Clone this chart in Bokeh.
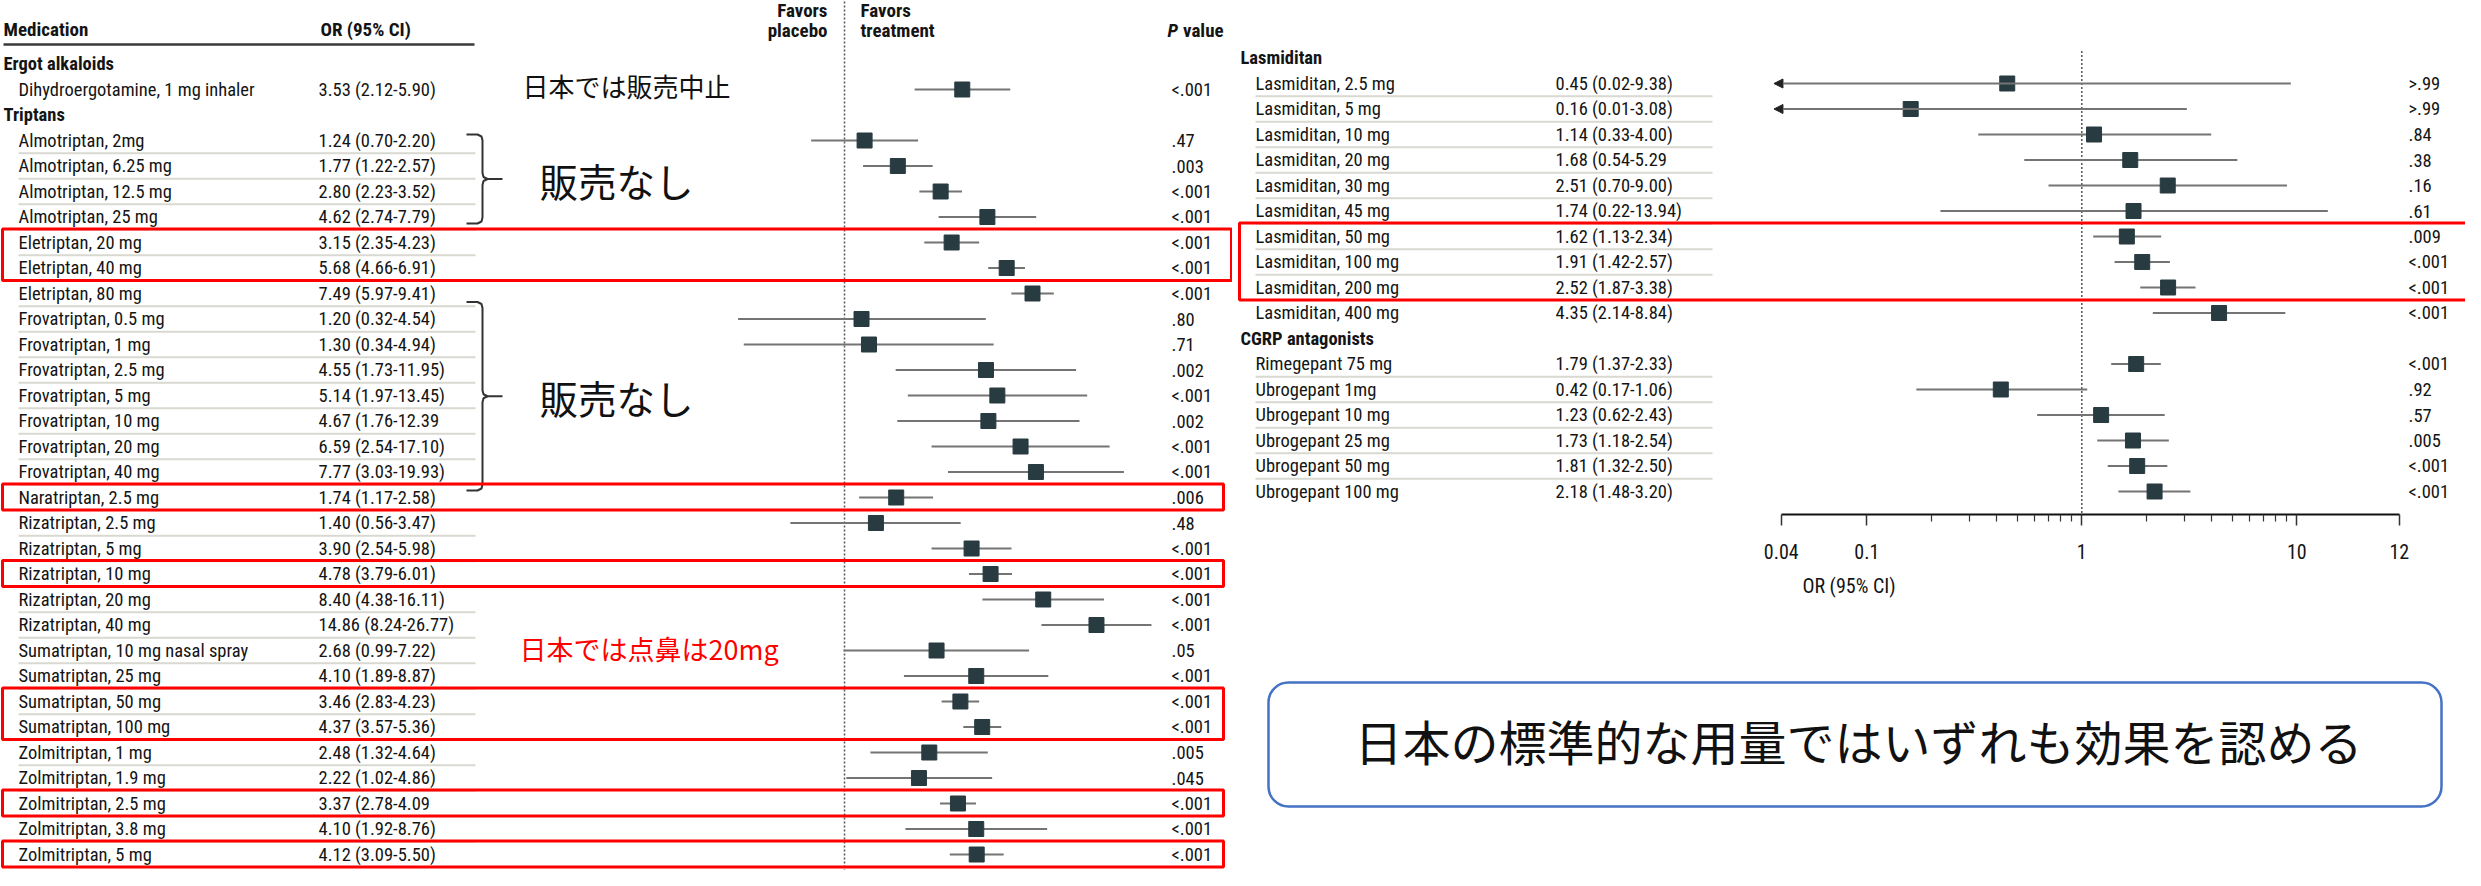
from bokeh.plotting import figure
from bokeh.models import (Range1d, LogScale, LogAxis, FixedTicker, CustomJSTickFormatter,
                          BoxAnnotation, Arrow, NormalHead, ColumnDataSource)
from bokeh.layouts import row, column
from bokeh.core.properties import value
from bokeh.embed import file_html
from bokeh.resources import INLINE

# ---------------------------------------------------------------- data
left_group_names = ["Ergot alkaloids", "Triptans"]
left_group_counts = [1, 29]
left_names = [
    "Dihydroergotamine, 1 mg inhaler",
    "Almotriptan, 2mg", "Almotriptan, 6.25 mg", "Almotriptan, 12.5 mg", "Almotriptan, 25 mg",
    "Eletriptan, 20 mg", "Eletriptan, 40 mg", "Eletriptan, 80 mg",
    "Frovatriptan, 0.5 mg", "Frovatriptan, 1 mg", "Frovatriptan, 2.5 mg", "Frovatriptan, 5 mg",
    "Frovatriptan, 10 mg", "Frovatriptan, 20 mg", "Frovatriptan, 40 mg",
    "Naratriptan, 2.5 mg",
    "Rizatriptan, 2.5 mg", "Rizatriptan, 5 mg", "Rizatriptan, 10 mg", "Rizatriptan, 20 mg",
    "Rizatriptan, 40 mg",
    "Sumatriptan, 10 mg nasal spray", "Sumatriptan, 25 mg", "Sumatriptan, 50 mg",
    "Sumatriptan, 100 mg",
    "Zolmitriptan, 1 mg", "Zolmitriptan, 1.9 mg", "Zolmitriptan, 2.5 mg", "Zolmitriptan, 3.8 mg",
    "Zolmitriptan, 5 mg"]
left_or = [3.53, 1.24, 1.77, 2.80, 4.62, 3.15, 5.68, 7.49, 1.20, 1.30, 4.55, 5.14, 4.67, 6.59,
           7.77, 1.74, 1.40, 3.90, 4.78, 8.40, 14.86, 2.68, 4.10, 3.46, 4.37, 2.48, 2.22, 3.37,
           4.10, 4.12]
left_lo = [2.12, 0.70, 1.22, 2.23, 2.74, 2.35, 4.66, 5.97, 0.32, 0.34, 1.73, 1.97, 1.76, 2.54,
           3.03, 1.17, 0.56, 2.54, 3.79, 4.38, 8.24, 0.99, 1.89, 2.83, 3.57, 1.32, 1.02, 2.78,
           1.92, 3.09]
left_hi = [5.90, 2.20, 2.57, 3.52, 7.79, 4.23, 6.91, 9.41, 4.54, 4.94, 11.95, 13.45, 12.39, 17.10,
           19.93, 2.58, 3.47, 5.98, 6.01, 16.11, 26.77, 7.22, 8.87, 4.23, 5.36, 4.64, 4.86, 4.09,
           8.76, 5.50]
left_or_text = [
    "3.53 (2.12-5.90)", "1.24 (0.70-2.20)", "1.77 (1.22-2.57)", "2.80 (2.23-3.52)",
    "4.62 (2.74-7.79)", "3.15 (2.35-4.23)", "5.68 (4.66-6.91)", "7.49 (5.97-9.41)",
    "1.20 (0.32-4.54)", "1.30 (0.34-4.94)", "4.55 (1.73-11.95)", "5.14 (1.97-13.45)",
    "4.67 (1.76-12.39", "6.59 (2.54-17.10)", "7.77 (3.03-19.93)", "1.74 (1.17-2.58)",
    "1.40 (0.56-3.47)", "3.90 (2.54-5.98)", "4.78 (3.79-6.01)", "8.40 (4.38-16.11)",
    "14.86 (8.24-26.77)", "2.68 (0.99-7.22)", "4.10 (1.89-8.87)", "3.46 (2.83-4.23)",
    "4.37 (3.57-5.36)", "2.48 (1.32-4.64)", "2.22 (1.02-4.86)", "3.37 (2.78-4.09",
    "4.10 (1.92-8.76)", "4.12 (3.09-5.50)"]
left_p = ["<.001", ".47", ".003", "<.001", "<.001", "<.001", "<.001", "<.001", ".80", ".71",
          ".002", "<.001", ".002", "<.001", "<.001", ".006", ".48", "<.001", "<.001", "<.001",
          "<.001", ".05", "<.001", "<.001", "<.001", ".005", ".045", "<.001", "<.001", "<.001"]

right_group_names = ["Lasmiditan", "CGRP antagonists"]
right_group_counts = [10, 6]
right_names = [
    "Lasmiditan, 2.5 mg", "Lasmiditan, 5 mg", "Lasmiditan, 10 mg", "Lasmiditan, 20 mg",
    "Lasmiditan, 30 mg", "Lasmiditan, 45 mg", "Lasmiditan, 50 mg", "Lasmiditan, 100 mg",
    "Lasmiditan, 200 mg", "Lasmiditan, 400 mg",
    "Rimegepant 75 mg", "Ubrogepant 1mg", "Ubrogepant 10 mg", "Ubrogepant 25 mg",
    "Ubrogepant 50 mg", "Ubrogepant 100 mg"]
right_or = [0.45, 0.16, 1.14, 1.68, 2.51, 1.74, 1.62, 1.91, 2.52, 4.35, 1.79, 0.42, 1.23, 1.73,
            1.81, 2.18]
right_lo = [0.02, 0.01, 0.33, 0.54, 0.70, 0.22, 1.13, 1.42, 1.87, 2.14, 1.37, 0.17, 0.62, 1.18,
            1.32, 1.48]
right_hi = [9.38, 3.08, 4.00, 5.29, 9.00, 13.94, 2.34, 2.57, 3.38, 8.84, 2.33, 1.06, 2.43, 2.54,
            2.50, 3.20]
right_or_text = [
    "0.45 (0.02-9.38)", "0.16 (0.01-3.08)", "1.14 (0.33-4.00)", "1.68 (0.54-5.29",
    "2.51 (0.70-9.00)", "1.74 (0.22-13.94)", "1.62 (1.13-2.34)", "1.91 (1.42-2.57)",
    "2.52 (1.87-3.38)", "4.35 (2.14-8.84)", "1.79 (1.37-2.33)", "0.42 (0.17-1.06)",
    "1.23 (0.62-2.43)", "1.73 (1.18-2.54)", "1.81 (1.32-2.50)", "2.18 (1.48-3.20)"]
right_p = [">.99", ">.99", ".84", ".38", ".16", ".61", ".009", "<.001", "<.001", "<.001",
           "<.001", ".92", ".57", ".005", "<.001", "<.001"]

axis_ticks = [0.04, 0.1, 1, 10, 30]
axis_tick_labels = ["0.04", "0.1", "1", "10", "12"]
axis_minor_ticks = [0.2, 0.3, 0.4, 0.5, 0.6, 0.7, 0.8, 0.9, 2, 3, 4, 5, 6, 7, 8, 9]

# annotations (Japanese notes) -----------------------------------------
note_top = "日本では販売中止"
note_none = "販売なし"
note_nasal = "日本では点鼻は20mg"
note_box = "日本の標準的な用量ではいずれも効果を認める"
left_brace_rows = [(3, 6), (10, 16)]          # rows grouped by a curly brace
left_red_rows = [(7, 8), (17, 17), (20, 20), (25, 26), (29, 29), (31, 31)]
right_red_rows = [(7, 9)]

# ---------------------------------------------------------------- style / layout
FONT = "'Roboto Condensed', 'Liberation Sans Narrow', 'DejaVu Sans Condensed', Lato, sans-serif"
CJK = "'Noto Sans CJK JP', sans-serif"
INK = "#141414"
SQ = "#283b41"
CI = "#747474"
SEP = "#d9d9d1"
RED = "#ff0000"
FS = 18.5

M = 8
W_LEFT, W_RIGHT, H = 1232, 1233, 870
X_SPLIT = M + W_LEFT
X_END = X_SPLIT + W_RIGHT
Y_END = M + H
PITCH = 25.5
L_ROW0, R_ROW0 = 71.5, 65.5
L_ONE_X, R_ONE_X, PX_DEC = 852.0, 2089.3, 215.0
ARROW_CLIP = 0.037
B_FRAME_BOTTOM = 522
B_BORDER = 100


def log_range(xl, xr, one_x):
    return Range1d(10 ** ((xl - one_x) / PX_DEC), 10 ** ((xr - one_x) / PX_DEC))


def make_fig(w, h, x0, x1, y_top, y_bottom):
    p = figure(width=w, height=h, x_range=Range1d(x0, x1), y_range=Range1d(y_bottom, y_top),
               x_axis_type=None, y_axis_type=None, toolbar_location=None,
               output_backend="svg", min_border=0, outline_line_color=None)
    p.background_fill_color = "white"
    p.border_fill_color = "white"
    return p


def layout_rows(counts, row0):
    hy, iy, ig = [], [], []
    i = 0
    for g, n in enumerate(counts):
        hy.append(row0 + PITCH * i)
        i += 1
        for _ in range(n):
            iy.append(row0 + PITCH * i)
            ig.append(g)
            i += 1
    return hy, iy, ig


def seps(iy, ig):
    return [(a + b) / 2 for a, b, ga, gb in zip(iy[:-1], iy[1:], ig[:-1], ig[1:]) if ga == gb]


def txt(p, xs, ys, texts, size, style="normal", color=INK, align="left", font=FONT):
    p.text(x=xs, y=ys, text=texts, text_font=value(font), text_font_size=f"{size}px",
           text_font_style=style, text_color=color, text_align=align,
           text_baseline="middle")


def table(p, hx, ix, orx, px, sep_x1, names, groups, or_text, pvals, hy, iy, ig):
    txt(p, [hx] * len(hy), hy, groups, FS, "bold")
    txt(p, [ix] * len(iy), iy, names, FS)
    txt(p, [orx] * len(iy), iy, or_text, FS)
    txt(p, [px] * len(iy), iy, pvals, FS)
    sy = seps(iy, ig)
    p.segment(x0=[ix] * len(sy), x1=[sep_x1] * len(sy), y0=sy, y1=sy,
              line_color=SEP, line_width=2)


def forest(p, rname, ors, los, his, ys, lo_limit):
    keep = [i for i in range(len(ors)) if los[i] >= lo_limit]
    cut = [i for i in range(len(ors)) if los[i] < lo_limit]
    p.segment(x0=[los[i] for i in keep], x1=[his[i] for i in keep],
              y0=[ys[i] for i in keep], y1=[ys[i] for i in keep],
              x_range_name=rname, line_color=CI, line_width=2)
    if cut:
        src = ColumnDataSource(dict(xs=[his[i] for i in cut], xe=[ARROW_CLIP] * len(cut),
                                    y=[ys[i] for i in cut]))
        p.add_layout(Arrow(end=NormalHead(size=9, fill_color="#222", line_color="#222"),
                           x_start="xs", x_end="xe", y_start="y", y_end="y", source=src,
                           x_range_name=rname, line_color=CI, line_width=2))
    p.scatter(x=ors, y=ys, marker="square", size=15, x_range_name=rname,
              fill_color=SQ, line_color=SQ)


def red_boxes(p, rows, row0, x0, x1):
    p.quad(left=[x0] * len(rows), right=[x1] * len(rows),
           top=[row0 + PITCH * a - 13.5 for a, b in rows],
           bottom=[row0 + PITCH * b + 12.5 for a, b in rows],
           fill_alpha=0, line_color=RED, line_width=3)


def brace(p, top, bot, xh=474, xs=490, xt=510):
    mid = (top + bot) / 2
    x1 = [xh, xs - 5, xs - 1, xs, xs, xs + 1, xs + 5, xt]
    y1 = [top, top, top + 2, top + 6, mid - 6, mid - 2, mid, mid]
    x2 = [xs + 5, xs + 1, xs, xs, xs - 1, xs - 5, xh]
    y2 = [mid, mid + 2, mid + 6, bot - 6, bot - 2, bot, bot]
    p.multi_line([x1, x2], [y1, y2], line_color="#333333", line_width=2)
    return mid


# ---------------------------------------------------------------- left figure
pa = make_fig(W_LEFT, H, M, X_SPLIT, M, Y_END)
pa.extra_x_ranges = {"lf": log_range(M, X_SPLIT, L_ONE_X)}
pa.extra_x_scales = {"lf": LogScale()}

lhy, liy, lig = layout_rows(left_group_counts, L_ROW0)

pa.segment(x0=[1], x1=[1], y0=[9], y1=[Y_END], x_range_name="lf",
           line_color="#555555", line_width=1.5, line_dash="2 2")

txt(pa, [11, 328], [37, 37], ["Medication", "OR (95% CI)"], 19, "bold")
pa.segment(x0=[11], x1=[482], y0=[52], y1=[52], line_color="#3a3a3a", line_width=2.5)
txt(pa, [835, 835], [18, 38], ["Favors", "placebo"], 19, "bold", align="right")
txt(pa, [868, 868], [18, 38], ["Favors", "treatment"], 19, "bold")
txt(pa, [1175], [38], ["P"], 19, "bold italic")
txt(pa, [1190.5], [38], ["value"], 19, "bold")

table(pa, 11, 26, 326, 1179, 483, left_names, left_group_names, left_or_text, left_p,
      lhy, liy, lig)
forest(pa, "lf", left_or, left_lo, left_hi, liy, 0)

mids = [brace(pa, L_ROW0 + PITCH * a - 6 if a < 8 else L_ROW0 + PITCH * a - 17,
              L_ROW0 + PITCH * b + 6.5 if b < 8 else L_ROW0 + PITCH * b + 18.5)
        for a, b in left_brace_rows]
txt(pa, [530], [93], [note_top], 26, color="#111111", font=CJK)
txt(pa, [547, 547], [m + 1 for m in mids], [note_none, note_none], 38.5, color="#111111",
    font=CJK)
txt(pa, [527], [656], [note_nasal], 27, color=RED, font=CJK)

red_boxes(pa, left_red_rows[:1], L_ROW0, 10, 1239)
red_boxes(pa, left_red_rows[1:], L_ROW0, 10, 1231)

# ---------------------------------------------------------------- right figure (with axis)
HB = B_FRAME_BOTTOM - M + B_BORDER
pb = make_fig(W_RIGHT, HB, X_SPLIT, X_END, M, B_FRAME_BOTTOM)
pb.min_border_bottom = B_BORDER
pb.extra_x_ranges = {"rf": log_range(X_SPLIT, X_END, R_ONE_X)}
pb.extra_x_scales = {"rf": LogScale()}

rhy, riy, rig = layout_rows(right_group_counts, R_ROW0)
pb.segment(x0=[1], x1=[1], y0=[R_ROW0 - 7], y1=[B_FRAME_BOTTOM], x_range_name="rf",
           line_color="#555555", line_width=1.5, line_dash="2 2")
table(pb, 1248, 1263, 1563, 2416, 1720, right_names, right_group_names, right_or_text, right_p,
      rhy, riy, rig)
forest(pb, "rf", right_or, right_lo, right_hi, riy, axis_ticks[0])
red_boxes(pb, right_red_rows, R_ROW0, 1247, X_END + 20)

fmt = CustomJSTickFormatter(args=dict(vals=axis_ticks, labs=axis_tick_labels), code="""
let best = -1, bd = 1e9;
for (let i = 0; i < vals.length; i++) {
  const d = Math.abs(Math.log10(vals[i]) - Math.log10(tick));
  if (d < bd) { bd = d; best = i; }
}
return bd < 1e-6 ? labs[best] : "";
""")
ax = LogAxis(x_range_name="rf", ticker=FixedTicker(ticks=axis_ticks, minor_ticks=axis_minor_ticks),
             formatter=fmt, bounds=(axis_ticks[0], axis_ticks[-1]), axis_label="OR (95% CI)")
ax.axis_line_color = "#111111"
ax.axis_line_width = 2
ax.major_tick_in = 0
ax.major_tick_out = 11
ax.minor_tick_in = 0
ax.minor_tick_out = 7
ax.major_tick_line_color = "#333333"
ax.minor_tick_line_color = "#333333"
ax.major_tick_line_width = 1.5
ax.minor_tick_line_width = 1.2
ax.major_label_text_font = FONT
ax.major_label_text_font_size = "20px"
ax.major_label_text_color = INK
ax.major_label_standoff = 18
ax.axis_label_text_font = FONT
ax.axis_label_text_font_size = "20px"
ax.axis_label_text_font_style = "normal"
ax.axis_label_text_color = INK
ax.axis_label_standoff = 12
pb.add_layout(ax, "below")

# ---------------------------------------------------------------- bottom-right note
HC = H - HB
pc = make_fig(W_RIGHT, HC, X_SPLIT, X_END, M + HB, Y_END)
pc.add_layout(BoxAnnotation(left=1276, right=2449, top=690, bottom=814, fill_color="white",
                            fill_alpha=0, line_color="#4472c4", line_width=2.5, line_alpha=1,
                            border_radius=20))
txt(pc, [1866], [747], [note_box], 48, color="#111111", align="center", font=CJK)

layout = row(pa, column(pb, pc))
open("out.html", "w").write(file_html(layout, INLINE))
